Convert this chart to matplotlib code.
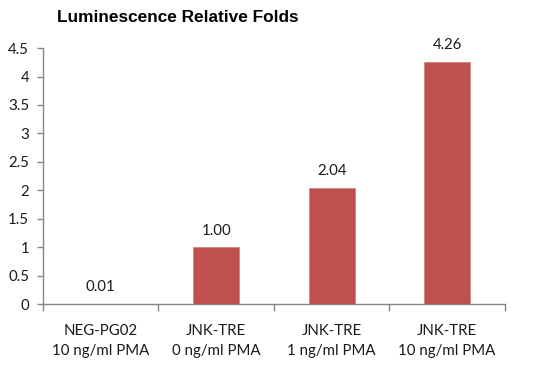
import matplotlib
matplotlib.use("Agg")
import matplotlib.pyplot as plt

categories = ["NEG-PG02\n10 ng/ml PMA", "JNK-TRE\n0 ng/ml PMA",
              "JNK-TRE\n1 ng/ml PMA", "JNK-TRE\n10 ng/ml PMA"]
folds = [0.01, 1.00, 2.04, 4.26]
yticks = [0, 0.5, 1, 1.5, 2, 2.5, 3, 3.5, 4, 4.5]

BAR = "#C0504D"
AX = "#868686"
TXT = "#1A1A1A"
FONT = ["Lato", "DejaVu Sans"]

fig = plt.figure(figsize=(5.44, 3.70), dpi=100)
ax = fig.add_axes([0.079, 0.178, 0.849, 0.692])

x = range(len(folds))
ax.bar(x, folds, width=0.4, color=BAR, edgecolor="#D08583", linewidth=0.6, zorder=3)
for i, v in zip(x, folds):
    ax.annotate(f"{v:.2f}", (i, v), xytext=(0, 7), textcoords="offset points",
                ha="center", va="bottom", fontsize=10.8, color=TXT, family=FONT)

ax.set_xlim(-0.5, len(folds) - 0.5)
ax.set_ylim(0, 4.5)
ax.set_yticks(yticks)
ax.set_yticklabels([f"{t:g}" for t in yticks], fontsize=10.8, color=TXT, family=FONT)

# x ticks at category boundaries, labels centred
ax.set_xticks([i - 0.5 for i in range(len(folds) + 1)])
ax.set_xticklabels([])
ax.set_xticks(list(x), minor=True)
ax.set_xticklabels(categories, minor=True, fontsize=10.8, color=TXT, family=FONT,
                   linespacing=1.6)
ax.tick_params(axis="x", which="minor", length=0, pad=14)
ax.tick_params(axis="x", which="major", length=5, color=AX, width=1)
ax.tick_params(axis="y", length=4, color=AX, width=1, pad=6)

for s in ("top", "right"):
    ax.spines[s].set_visible(False)
for s in ("left", "bottom"):
    ax.spines[s].set_color(AX)
    ax.spines[s].set_linewidth(1)

fig.text(0.105, 0.952, "Luminescence Relative Folds", fontsize=12.4, fontweight="bold",
         family=["Liberation Sans", "DejaVu Sans"], va="center", ha="left", color="black")

fig.savefig("out.png", dpi=100, facecolor="white")
